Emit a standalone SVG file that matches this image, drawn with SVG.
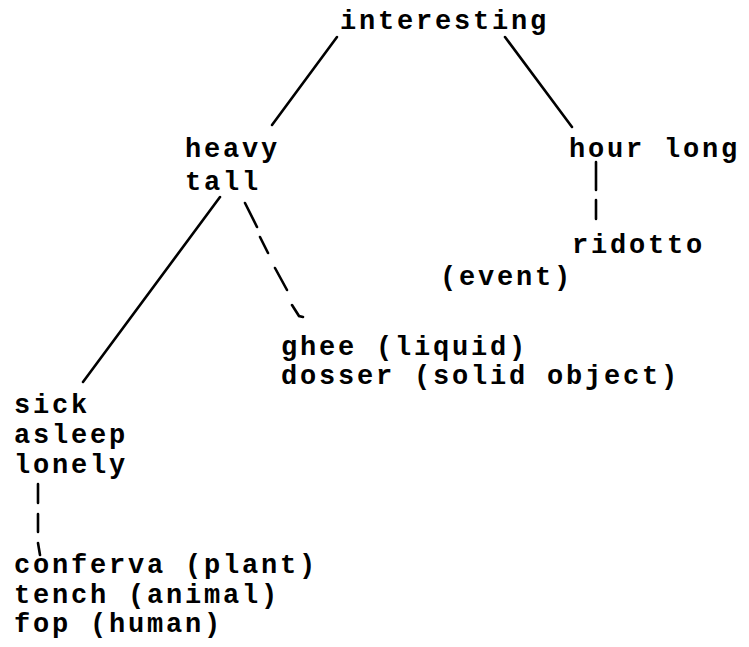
<svg xmlns="http://www.w3.org/2000/svg" width="749" height="647" viewBox="0 0 749 647">
<style>
text{font-family:"Liberation Mono","Courier New",monospace;font-weight:bold;font-size:27px;letter-spacing:2.8px;fill:#000}
.ln{stroke:#000;stroke-width:2.6;fill:none;stroke-linecap:round}
</style>
<rect width="749" height="647" fill="#fff"/>
<g id="connectors">
<line class="ln" x1="337" y1="37" x2="272" y2="125"/>
<line class="ln" x1="505" y1="37" x2="572" y2="127"/>
<line class="ln" x1="220" y1="197" x2="83" y2="382"/>
<path class="ln" d="M245 203 L257 227 M260 237 L268 253 M275 268 L287 290 M292 305 L299 316 L303 317"/>
<path class="ln" d="M596 162 L596 190 M596 200 L596 219"/>
<path class="ln" d="M38 484 L38 503 M38 514 L38 532 M38 543 L40 555"/>
</g>
<g id="n-interesting"><text x="340" y="29">interesting</text></g>
<g id="n-heavy"><text x="185" y="157">heavy</text><text x="185" y="190">tall</text></g>
<g id="n-hour"><text x="569" y="157">hour long</text></g>
<g id="n-ridotto"><text x="572" y="253">ridotto</text><text x="440" y="285">(event)</text></g>
<g id="n-ghee"><text x="281" y="355">ghee (liquid)</text><text x="281" y="384">dosser (solid object)</text></g>
<g id="n-sick"><text x="14" y="413">sick</text><text x="14" y="443">asleep</text><text x="14" y="473">lonely</text></g>
<g id="n-conferva"><text x="14" y="573">conferva (plant)</text><text x="14" y="603">tench (animal)</text><text x="14" y="632">fop (human)</text></g>
</svg>
